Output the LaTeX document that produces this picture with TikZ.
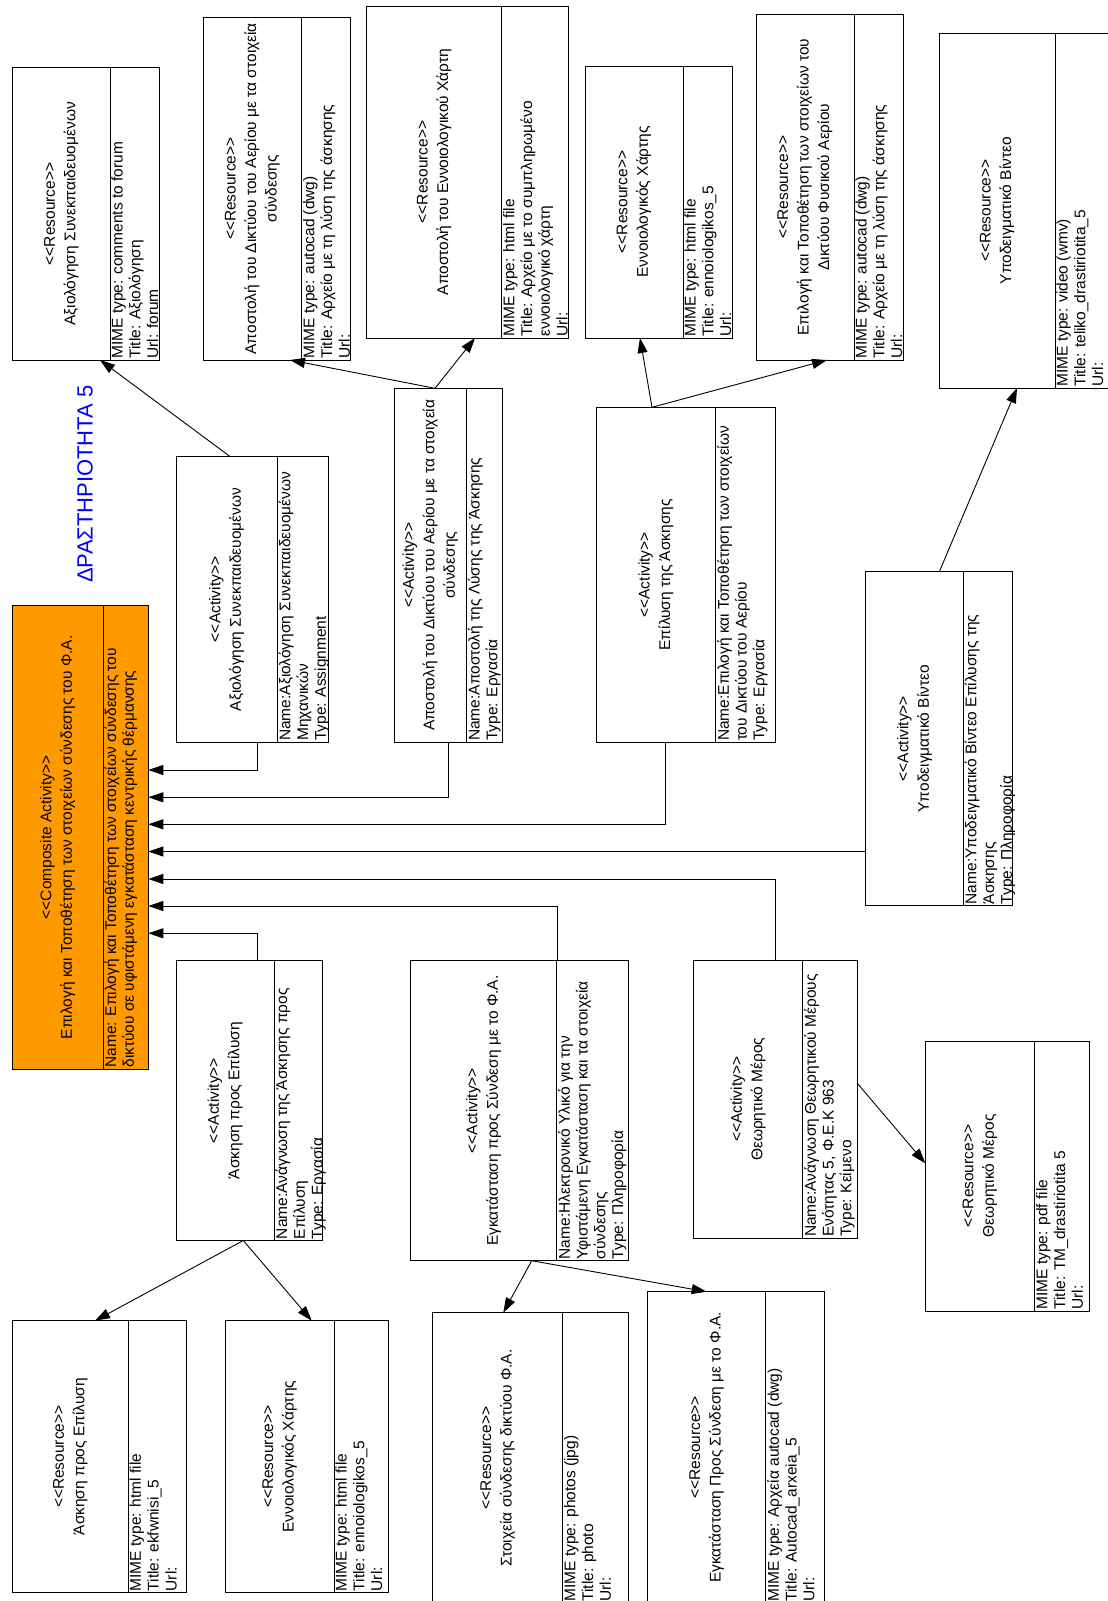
\documentclass[tikz,border=0pt]{standalone}
\usepackage{fontspec}
\setmainfont{Liberation Sans}
\usetikzlibrary{arrows.meta,calc}

\definecolor{compfill}{RGB}{255,153,0}
\definecolor{titleblue}{RGB}{0,0,255}

% guillemet-free stereotype brackets
\newcommand\stereo[1]{<{}<#1>{}>}

\tikzset{
  umlframe/.style={draw=black, line width=1pt, inner sep=0pt, outer sep=0pt},
  headtext/.style={rotate=90, align=center, inner sep=0pt,
    font=\fontsize{15.5}{20.5}\selectfont},
  attrtext/.style={rotate=90, anchor=north west, align=left, inner sep=1.2pt,
    font=\fontsize{15.5}{17.8}\selectfont},
  link/.style={line width=0.9pt, -{Triangle[length=15pt,width=10pt]}},
}

% UML class-like box lying on its side:
% #1 fill, #2 name, #3 left, #4 top, #5 right, #6 bottom, #7 divider x,
% #8 header lines, #9 attribute lines
\newcommand\umlbox[9][white]{%
  \node[umlframe, fill=#1, minimum width={(#5)-(#3)}, minimum height={(#6)-(#4)}]
    (#2) at ({((#3)+(#5))/2},{((#4)+(#6))/2}) {};
  \draw[line width=1pt] (#7,#4) -- (#7,#6);
  \node[headtext] (#2-head) at ({((#3)+(#7))/2},{((#4)+(#6))/2}) {#8};
  \node[attrtext] (#2-attr) at (#7,#6) {#9};
}

\begin{document}
\begin{tikzpicture}[x=1pt,y=-1pt]
\fill[white] (0,0) rectangle (1108,1601);
\clip (0,0) rectangle (1108,1601);
\useasboundingbox (0,0) rectangle (1108,1601);

% ---- resources, top row
\umlbox{r1}{12.7}{67.7}{159}{360}{110}
  {\stereo{Resource}\\Αξιολόγηση Συνεκπαιδευομένων}
  {MIME type: comments to forum\\Title: Αξιολόγηση\\Url: forum}
\umlbox{r2}{203}{17.4}{350}{360}{301.7}
  {\stereo{Resource}\\Αποστολή του Δικτύου του Αερίου με τα στοιχεία\\σύνδεσης}
  {MIME type: autocad (dwg)\\Title: Αρχείο με τη λύση της άσκησης\\Url:}
\umlbox{r3}{366.7}{6}{568.3}{338}{501.7}
  {\stereo{Resource}\\Αποστολή του Εννοιολογικού Χάρτη}
  {MIME type: html file\\Title: Αρχείο με το συμπληρωμένο\\εννοιολογικό χάρτη\\Url:}
\umlbox{r4}{585}{66}{732}{338}{683}
  {\stereo{Resource}\\Εννοιολογικός Χάρτης}
  {MIME type: html file\\Title: ennoiologikos\_5\\Url:}
\umlbox{r5}{756}{14.3}{903}{360}{854}
  {\stereo{Resource}\\Επιλογή και Τοποθέτηση των στοιχείων του\\Δικτύου Φυσικού Αερίου}
  {MIME type: autocad (dwg)\\Title: Αρχείο με τη λύση της άσκησης\\Url:}
\umlbox{r6}{939.3}{33.3}{1125}{388}{1055}
  {\stereo{Resource}\\Υποδειγματικό Βίντεο}
  {MIME type: video (wmv)\\Title: teliko\_drastiriotita\_5\\Url:}

% ---- composite activity and title
\umlbox[compfill]{comp}{12.3}{605.6}{148.3}{1069}{103}
  {\stereo{Composite Activity}\\Επιλογή και Τοποθέτηση των στοιχείων σύνδεσης του Φ.Α.}
  {Name: Επιλογή και Τοποθέτηση των στοιχείων σύνδεσης του\\δικτύου σε υφιστάμενη εγκατάσταση κεντρικής θέρμανσης}
\node[rotate=90, text=titleblue, inner sep=0pt, font=\fontsize{22}{26}\selectfont]
  (title) at (85,484) {ΔΡΑΣΤΗΡΙΟΤΗΤΑ 5};

% ---- activities
\umlbox{a1}{176}{456.5}{328.3}{742.3}{277.3}
  {\stereo{Activity}\\Αξιολόγηση Συνεκπαιδευομένων}
  {Name:Αξιολόγηση Συνεκπαιδευομένων\\Μηχανικών\\Type: Assignment}
\umlbox{a2}{394}{388.3}{502.7}{742.3}{466.5}
  {\stereo{Activity}\\Αποστολή του Δικτύου του Αερίου με τα στοιχεία\\σύνδεσης}
  {Name:Αποστολή της Λύσης της Άσκησης\\Type: Εργασία}
\umlbox{a3}{596}{407.3}{775.5}{742.3}{715.7}
  {\stereo{Activity}\\Επίλυση της Άσκησης}
  {Name:Επιλογή και Τοποθέτηση των στοιχείων\\του Δικτύου του Αερίου\\Type: Εργασία}
\umlbox{a4}{865.7}{571.7}{1012.3}{905.7}{963.3}
  {\stereo{Activity}\\Υποδειγματικό Βίντεο}
  {Name:Υποδειγματικό Βίντεο Επίλυσης της\\Άσκησης\\Type: Πληροφορία}
\umlbox{a5}{176}{960.7}{322.7}{1240.5}{274}
  {\stereo{Activity}\\Άσκηση προς Επίλυση}
  {Name:Ανάγνωση της Άσκησης προς\\Επίλυση\\Type: Εργασία}
\umlbox{a6}{410.7}{960.7}{628.3}{1260.7}{556.7}
  {\stereo{Activity}\\Εγκατάσταση προς Σύνδεση με το Φ.Α.}
  {Name:Ηλεκτρονικό Υλικό για την\\Υφιστάμενη Εγκατάσταση και τα στοιχεία\\σύνδεσης\\Type: Πληροφορία}
\umlbox{a7}{693.5}{960.3}{857.3}{1238.3}{802.8}
  {\stereo{Activity}\\Θεωρητικό Μέρος}
  {Name:Ανάγνωση Θεωρητικού Μέρους\\Ενότητας 5, Φ.Ε.Κ 963\\Type: Κείμενο}

% ---- resources, lower part
\umlbox{r7}{925.3}{1041}{1089.3}{1311}{1034.7}
  {\stereo{Resource}\\Θεωρητικό Μέρος}
  {MIME type: pdf file\\Title: TM\_drastiriotita 5\\Url:}
\umlbox{r8}{12.7}{1320.7}{186.7}{1592.7}{128.3}
  {\stereo{Resource}\\Άσκηση προς Επίλυση}
  {MIME type: html file\\Title: ekfwnisi\_5\\Url:}
\umlbox{r9}{225.3}{1320.7}{388.3}{1592.7}{334}
  {\stereo{Resource}\\Εννοιολογικός Χάρτης}
  {MIME type: html file\\Title: ennoiologikos\_5\\Url:}
\umlbox{r10}{432.7}{1312.7}{628.3}{1603}{562.7}
  {\stereo{Resource}\\Στοιχεία σύνδεσης δικτύου Φ.Α.}
  {MIME type: photos (jpg)\\Title: photo\\Url:}
\umlbox{r11}{647.7}{1291.7}{824.3}{1603}{765.7}
  {\stereo{Resource}\\Εγκατάσταση Προς Σύνδεση με το Φ.Α.}
  {MIME type: Αρχεία autocad (dwg)\\Title: Autocad\_arxeia\_5\\Url:}

% ---- activity -> resource links
\draw[link] ([xshift=54pt]a1.north west) -- ([xshift=87.3pt]r1.south west);
\draw[link] ([xshift=41pt]a2.north west) -- ([xshift=87pt]r2.south west);
\draw[link] ([xshift=41pt]a2.north west) -- ([xshift=108.3pt]r3.south west);
\draw[link] ([xshift=56pt]a3.north west) -- ([xshift=55pt]r4.south west);
\draw[link] ([xshift=56pt]a3.north west) -- ([xshift=71pt]r5.south west);
\draw[link] ([xshift=73.6pt]a4.north west) -- ([xshift=77.7pt]r6.south west);
\draw[link] ([xshift=67.3pt]a5.south west) -- ([xshift=82.3pt]r8.north west);
\draw[link] ([xshift=67.3pt]a5.south west) -- ([xshift=86.4pt]r9.north west);
\draw[link] ([xshift=121pt]a6.south west) -- ([xshift=70.6pt]r10.north west);
\draw[link] ([xshift=121pt]a6.south west) -- ([xshift=59pt]r11.north west);
\draw[link] ([yshift=-123pt]a7.north east) -- ([yshift=-122.3pt]r7.north west);

% ---- activity -> composite links
\draw[link] ([xshift=81.7pt]a1.south west) |- ([yshift=67.3pt]comp.east);
\draw[link] ([xshift=54.3pt]a2.south west) |- ([yshift=40pt]comp.east);
\draw[link] ([xshift=69.7pt]a3.south west) |- ([yshift=13pt]comp.east);
\draw[link] ([yshift=-112.8pt]a4.west) -- ([yshift=-14.2pt]comp.east);
\draw[link] ([xshift=82.2pt]a7.north west) |- ([yshift=-41.7pt]comp.east);
\draw[link] ([xshift=146.3pt]a6.north west) |- ([yshift=-68.7pt]comp.east);
\draw[link] ([xshift=81.7pt]a5.north west) |- ([yshift=-96pt]comp.east);
\end{tikzpicture}
\end{document}
